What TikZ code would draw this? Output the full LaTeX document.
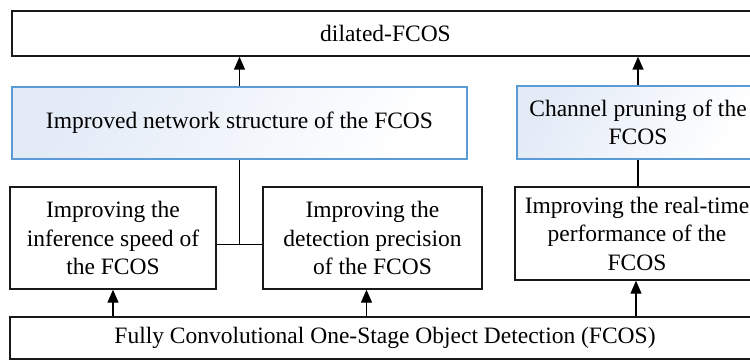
\documentclass[tikz,border=0pt]{standalone}
\usepackage{fontspec}
\setmainfont{Liberation Serif}
\usetikzlibrary{arrows.meta,calc}
\definecolor{boxblue}{HTML}{5B9BD5}
\definecolor{fillblue}{HTML}{E3EBF7}
\tikzset{
  plainbox/.style={draw=black!90, line width=1.4pt, fill=white, inner sep=0pt,
    align=center, font=\fontsize{23.5pt}{28.5pt}\selectfont},
  bluebox/.style={draw=boxblue, line width=1.2pt, inner sep=0pt, align=center,
    shading=axis, left color=fillblue, right color=white, shading angle=60,
    font=\fontsize{23.5pt}{28.5pt}\selectfont},
  arr/.style={line width=1.4pt, -{Triangle[width=11pt,length=13pt]}},
  link/.style={line width=1.4pt}
}
\begin{document}
\begin{tikzpicture}[x=1pt,y=-1pt]
\useasboundingbox (0,0) rectangle (750,361);
\clip (0,0) rectangle (750,361);
\fill[white] (0,0) rectangle (750,361);

% top result
\node[plainbox, minimum width=747pt, minimum height=45pt] (top) at (385.5,33.5) {dilated-FCOS};

% improvement groups
\node[bluebox, minimum width=455pt, minimum height=72pt] (net) at (239.5,123) {Improved network structure of the FCOS};
\node[bluebox, minimum width=242pt, minimum height=73pt] (prune) at (638,122.5) {Channel pruning of the\\FCOS};

% goals
\node[plainbox, minimum width=206pt, minimum height=102pt] (speed) at (113,238) {Improving the\\inference speed of\\the FCOS};
\node[plainbox, minimum width=219pt, minimum height=102pt] (prec) at (372.5,238) {Improving the\\detection precision\\of the FCOS};
\node[plainbox, minimum width=244pt, minimum height=93pt] (rt) at (637,233.5) {Improving the real-time\\performance of the\\FCOS};

% base detector
\node[plainbox, minimum width=750pt, minimum height=42pt] (base) at (385,338) {Fully Convolutional One-Stage Object Detection (FCOS)};

% connectors
\draw[arr] (net.north) -- (net.north |- top.south);
\draw[arr] (prune.north) -- (prune.north |- top.south);

\coordinate (join) at ($(net.south)+(0,85)$);
\draw[link] (net.south) -- (join);
\draw[link] (join -| speed.east) -- (join -| prec.west);
\draw[link] (prune.south) -- (prune.south |- rt.north);

\draw[arr] (speed.south |- base.north) -- (speed.south);
\draw[arr] ([xshift=-6pt]prec.south |- base.north) -- ([xshift=-6pt]prec.south);
\draw[arr] ([xshift=-1pt]rt.south |- base.north) -- ([xshift=-1pt]rt.south);
\end{tikzpicture}
\end{document}
